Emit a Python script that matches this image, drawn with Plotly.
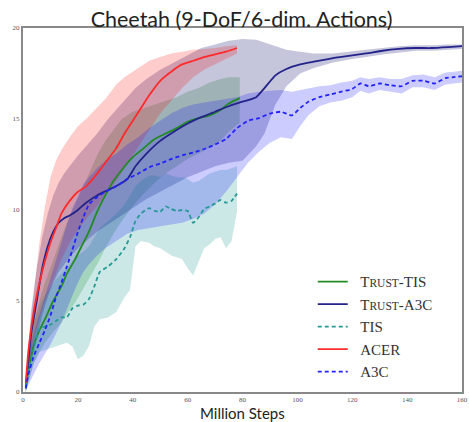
import plotly.graph_objects as go

# ---------------- data ----------------
acer_x = [1, 2, 4, 6, 8, 10, 12, 14, 17, 20, 23, 27, 30, 34, 37, 40, 43, 46, 50, 54, 58, 62, 66, 70, 74, 78]
acer_y = [0.5, 2.3, 4.5, 6.0, 7.2, 8.2, 9.0, 9.8, 10.5, 11.0, 11.3, 12.0, 12.6, 13.4, 14.2, 14.9, 15.6, 16.3, 17.1, 17.6, 18.0, 18.2, 18.4, 18.55, 18.7, 18.9]
acer_hi = [0.8, 2.6, 5.5, 8.2, 10.2, 11.8, 12.7, 13.3, 14.0, 14.6, 15.0, 15.6, 16.1, 16.9, 17.3, 17.6, 17.9, 18.2, 18.4, 18.6, 18.7, 18.8, 18.85, 18.9, 19.0, 19.05]
acer_lo = [0.2, 1.5, 3.0, 4.0, 5.0, 5.8, 6.5, 7.3, 8.2, 8.9, 9.5, 10.2, 10.8, 11.6, 12.3, 13.0, 13.7, 14.4, 15.3, 16.0, 16.7, 17.3, 17.7, 18.0, 18.3, 18.6]

ta3c_x = [1, 2, 3, 5, 7, 9, 11, 13, 15, 17, 20, 23, 27, 31, 35, 38, 41, 45, 50, 55, 60, 65, 70, 75, 80, 85, 88, 92, 96, 101, 106, 113, 120, 125, 131, 137, 143, 149, 155, 160]
ta3c_y = [0.3, 1.8, 3.2, 5.0, 6.8, 8.0, 8.8, 9.3, 9.55, 9.7, 10.0, 10.4, 10.8, 11.1, 11.4, 11.7, 12.4, 13.1, 13.8, 14.3, 14.75, 15.1, 15.4, 15.7, 15.95, 16.2, 16.7, 17.4, 17.75, 18.0, 18.15, 18.35, 18.5, 18.6, 18.75, 18.85, 18.9, 18.9, 18.95, 19.0]
ta3c_hi = [0.6, 2.5, 4.5, 6.8, 8.5, 9.8, 10.8, 11.5, 12.0, 12.4, 13.0, 13.5, 14.2, 15.0, 15.7, 16.2, 16.7, 17.2, 17.7, 18.1, 18.5, 18.9, 19.1, 19.3, 19.4, 19.35, 19.2, 19.0, 18.8, 18.7, 18.6, 18.6, 18.7, 18.8, 18.9, 19.0, 19.05, 19.05, 19.1, 19.1]
ta3c_lo = [0.0, 1.0, 1.8, 3.0, 4.2, 5.2, 6.0, 6.6, 7.0, 7.4, 7.9, 8.3, 8.8, 9.2, 9.6, 9.9, 10.2, 10.6, 11.0, 11.4, 11.8, 12.1, 12.4, 12.6, 12.7, 13.5, 14.2, 15.8, 16.8, 17.5, 17.8, 18.1, 18.3, 18.4, 18.55, 18.65, 18.75, 18.75, 18.8, 18.85]

ttis_x = [1, 2, 4, 6, 8, 11, 14, 16, 19, 21, 24, 27, 30, 33, 36, 40, 44, 48, 52, 56, 60, 64, 68, 72, 75, 79]
ttis_y = [0.2, 1.2, 2.6, 3.4, 4.0, 5.0, 5.8, 6.5, 7.3, 7.9, 8.8, 9.9, 10.8, 11.6, 12.2, 12.9, 13.4, 13.9, 14.2, 14.5, 14.85, 15.05, 15.2, 15.5, 15.85, 16.15]
ttis_hi = [0.5, 2.0, 3.8, 5.0, 6.0, 7.3, 8.5, 9.3, 10.3, 11.0, 12.0, 13.0, 13.8, 14.4, 15.0, 15.4, 15.6, 15.8, 16.0, 16.2, 16.5, 16.7, 17.0, 17.2, 17.3, 17.3]
ttis_lo = [0.0, 0.6, 1.6, 2.2, 2.7, 3.3, 3.8, 4.3, 4.9, 5.4, 6.2, 7.0, 7.9, 8.7, 9.4, 10.2, 10.9, 11.5, 12.0, 12.4, 12.8, 13.1, 13.4, 13.8, 14.3, 14.8]

tis_x = [1, 2, 4, 6, 8, 10, 12, 14, 16, 18, 20, 22, 24, 26, 28, 31, 34, 37, 39, 41, 43, 46, 48, 50, 52, 54, 56, 58, 60, 62, 64, 66, 68, 70, 72, 74, 76, 78]
tis_y = [0.3, 1.2, 2.4, 3.5, 3.6, 3.7, 3.9, 4.1, 4.1, 4.6, 4.75, 4.8, 5.1, 5.8, 6.6, 6.9, 7.3, 7.9, 8.5, 9.4, 9.8, 10.1, 9.95, 9.9, 10.2, 10.05, 9.95, 10.0, 9.95, 9.3, 9.6, 10.05, 10.2, 10.35, 10.55, 10.4, 10.5, 10.9]
tis_hi = [0.6, 2.2, 3.8, 4.8, 5.3, 5.8, 6.2, 6.5, 6.8, 7.2, 7.5, 7.7, 8.0, 8.5, 9.0, 9.4, 9.8, 10.3, 10.8, 11.3, 11.6, 11.9, 11.9, 11.8, 12.0, 11.9, 11.8, 11.8, 11.7, 11.5, 11.6, 11.8, 12.0, 12.1, 12.2, 12.2, 12.3, 12.4]
tis_lo = [0.0, 0.6, 1.6, 2.2, 2.3, 2.4, 2.5, 2.6, 2.7, 2.5, 1.8, 2.0, 2.5, 3.6, 4.0, 4.1, 4.4, 5.2, 5.6, 8.0, 8.3, 8.2, 8.0, 7.9, 7.7, 7.5, 7.4, 7.3, 6.8, 6.4, 7.2, 7.9, 8.1, 8.4, 8.5, 7.9, 8.3, 9.9]

a3c_x = [1, 2, 4, 6, 8, 10, 12, 14, 16, 18, 20, 22, 24, 27, 30, 34, 38, 42, 46, 50, 54, 58, 62, 66, 70, 74, 78, 82, 86, 90, 94, 98, 101, 104, 108, 112, 116, 120, 123, 126, 130, 134, 138, 142, 146, 150, 154, 157, 160]
a3c_y = [0.2, 1.0, 2.0, 2.7, 3.4, 4.2, 5.2, 6.0, 6.9, 7.8, 8.8, 9.6, 10.3, 10.7, 11.0, 11.3, 11.7, 12.0, 12.35, 12.55, 12.8, 13.0, 13.15, 13.35, 13.6, 13.9, 14.5, 14.9, 15.05, 15.3, 15.4, 15.2, 15.6, 15.95, 16.2, 16.35, 16.5, 16.65, 16.95, 16.8, 16.95, 16.85, 16.8, 17.1, 17.1, 16.95, 17.25, 17.3, 17.35]
a3c_hi = [0.5, 2.0, 3.3, 4.3, 5.2, 6.2, 7.2, 8.2, 9.2, 10.1, 10.8, 11.4, 11.8, 12.3, 12.7, 13.1, 13.6, 14.0, 14.5, 14.9, 15.3, 15.6, 15.8, 15.9, 16.0, 16.1, 16.2, 16.4, 16.5, 16.55, 16.6, 16.5, 16.6, 16.7, 16.8, 16.85, 17.0, 17.1, 17.3, 17.2, 17.3, 17.2, 17.2, 17.4, 17.45, 17.3, 17.55, 17.6, 17.65]
a3c_lo = [0.0, 0.4, 1.0, 1.6, 2.1, 2.6, 3.2, 3.8, 4.5, 5.3, 6.0, 6.6, 7.0, 7.5, 7.9, 8.3, 8.7, 8.9, 9.0, 9.1, 9.2, 9.3, 9.5, 9.8, 10.3, 11.0, 11.8, 12.6, 13.2, 13.7, 14.0, 13.9, 14.6, 15.2, 15.7, 15.9, 16.0, 16.2, 16.55, 16.4, 16.6, 16.5, 16.4, 16.75, 16.75, 16.6, 16.9, 16.95, 17.0]

x_ticks = [0, 20, 40, 60, 80, 100, 120, 140, 160]
y_ticks = [0, 5, 10, 15, 20]

def sc(first, rest="", tail=""):
    small = f"<span style='font-size:11.5px'>{rest}</span>" if rest else ""
    return f"&nbsp;&nbsp;{first}{small}{tail}"

series = [
    # name, x, y, lo, hi, line color, fill color, dash
    (sc("T", "RUST", "-TIS"), ttis_x, ttis_y, ttis_lo, ttis_hi, "#228b22", "rgba(0,128,0,0.2)", "solid"),
    (sc("T", "RUST", "-A3C"), ta3c_x, ta3c_y, ta3c_lo, ta3c_hi, "#23238a", "rgba(25,25,112,0.25)", "solid"),
    (sc("TIS"), tis_x, tis_y, tis_lo, tis_hi, "#239a94", "rgba(0,140,130,0.2)", "4px,3px"),
    (sc("ACER"), acer_x, acer_y, acer_lo, acer_hi, "#ff2a2a", "rgba(255,0,0,0.2)", "solid"),
    (sc("A3C"), a3c_x, a3c_y, a3c_lo, a3c_hi, "#2222ff", "rgba(0,0,255,0.2)", "4px,3px"),
]

fig = go.Figure()
for name, x, y, lo, hi, lc, fc, dash in series:
    fig.add_trace(go.Scatter(x=list(x) + list(x)[::-1], y=list(hi) + list(lo)[::-1],
                             fill="toself", fillcolor=fc, line=dict(width=0),
                             mode="lines", hoverinfo="skip", showlegend=False))
for name, x, y, lo, hi, lc, fc, dash in series:
    fig.add_trace(go.Scatter(x=x, y=y, mode="lines", name=name,
                             line=dict(color=lc, width=1.8, dash=dash, shape="spline", smoothing=0.5)))

fig.update_layout(
    width=469, height=422,
    margin=dict(l=23, r=7, t=28, b=30),
    paper_bgcolor="white", plot_bgcolor="white",
    title=dict(text="Cheetah (9-DoF/6-dim. Actions)", x=0.515, xanchor="center",
               y=0.955, yanchor="middle",
               font=dict(family="Lato", size=21.5, color="#222")),
    legend=dict(x=0.66, y=0.348, xanchor="left", yanchor="top",
                bgcolor="rgba(0,0,0,0)", tracegroupgap=0,
                font=dict(family="Liberation Serif", size=15, color="#333")),
    xaxis=dict(range=[0, 160], tickvals=x_ticks, ticktext=[str(v) for v in x_ticks],
               showgrid=False, zeroline=False, showline=True, mirror=True,
               linecolor="#888", linewidth=2, ticks="", automargin=False,
               tickfont=dict(family="Liberation Serif", size=7, color="#555")),
    yaxis=dict(range=[0, 20], tickvals=y_ticks, ticktext=[str(v) for v in y_ticks],
               showgrid=False, zeroline=False, showline=True, mirror=True,
               linecolor="#888", linewidth=2, ticks="", automargin=False,
               tickfont=dict(family="Liberation Serif", size=7, color="#555")),
    annotations=[dict(text="Million Steps", xref="paper", yref="paper",
                      x=0.5, y=-0.058, xanchor="center", yanchor="middle", showarrow=False,
                      font=dict(family="Lato", size=15, color="#222"))],
)

fig.write_html("out.html", config={"displayModeBar": False},
               post_script="document.body.style.margin='0';document.body.style.overflow='hidden';")
